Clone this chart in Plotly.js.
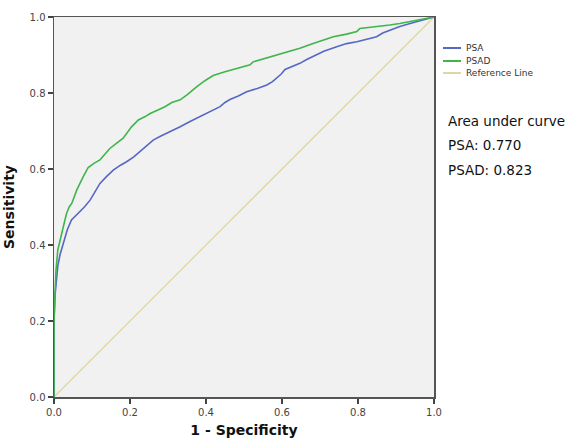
<!DOCTYPE html>
<html>
<head>
<meta charset="utf-8">
<script src="https://cdn.plot.ly/plotly-3.0.1.min.js"></script>
<style>html,body{margin:0;padding:0;background:#fff;}#chart{width:567px;height:438px;}</style>
</head>
<body>
<div id="chart"></div>
<script>
const psaFpr = [0, 0, 0.003, 0.006, 0.01, 0.016, 0.024, 0.035, 0.046, 0.055, 0.064, 0.08, 0.095, 0.108, 0.121, 0.138, 0.156, 0.175, 0.191, 0.21, 0.226, 0.245, 0.261, 0.28, 0.297, 0.315, 0.332, 0.358, 0.38, 0.402, 0.42, 0.437, 0.45, 0.463, 0.485, 0.507, 0.535, 0.56, 0.575, 0.586, 0.598, 0.608, 0.63, 0.647, 0.665, 0.682, 0.71, 0.744, 0.77, 0.797, 0.825, 0.849, 0.865, 0.884, 0.91, 0.937, 0.97, 1];
const psaTpr = [0, 0.2, 0.27, 0.31, 0.345, 0.375, 0.404, 0.44, 0.466, 0.475, 0.483, 0.5, 0.518, 0.54, 0.562, 0.58, 0.597, 0.61, 0.619, 0.632, 0.646, 0.662, 0.676, 0.686, 0.694, 0.703, 0.711, 0.725, 0.736, 0.746, 0.755, 0.764, 0.775, 0.783, 0.792, 0.803, 0.812, 0.821, 0.83, 0.839, 0.85, 0.862, 0.87, 0.878, 0.888, 0.896, 0.91, 0.922, 0.93, 0.935, 0.942, 0.948, 0.958, 0.966, 0.975, 0.983, 0.992, 1];
const psadFpr = [0, 0, 0.002, 0.005, 0.01, 0.019, 0.025, 0.033, 0.04, 0.047, 0.06, 0.077, 0.09, 0.105, 0.121, 0.135, 0.147, 0.165, 0.182, 0.204, 0.222, 0.24, 0.253, 0.275, 0.292, 0.31, 0.332, 0.35, 0.376, 0.398, 0.419, 0.45, 0.481, 0.5, 0.516, 0.524, 0.555, 0.586, 0.621, 0.647, 0.682, 0.71, 0.735, 0.77, 0.797, 0.805, 0.85, 0.884, 0.91, 0.937, 0.97, 1];
const psadTpr = [0, 0.2, 0.255, 0.33, 0.387, 0.43, 0.45, 0.483, 0.5, 0.51, 0.545, 0.58, 0.604, 0.615, 0.624, 0.64, 0.654, 0.668, 0.681, 0.711, 0.729, 0.738, 0.746, 0.756, 0.764, 0.775, 0.782, 0.795, 0.817, 0.833, 0.846, 0.856, 0.864, 0.869, 0.874, 0.882, 0.891, 0.9, 0.909, 0.918, 0.93, 0.94, 0.948, 0.955, 0.962, 0.97, 0.974, 0.979, 0.983, 0.988, 0.994, 1];
const refX = [0, 1];
const refY = [0, 1];
const tickVals = [0, 0.2, 0.4, 0.6, 0.8, 1.0];
const tickText = ["0.0", "0.2", "0.4", "0.6", "0.8", "1.0"];
const legendNames = ["PSA", "PSAD", "Reference Line"];
const aucTitle = "Area under curve";
const aucLines = ["PSA: 0.770", "PSAD: 0.823"];

const colors = ["#5468c4", "#3fb54a", "#e0d6a4"];

const traces = [
  {x: refX, y: refY, mode: "lines", line: {color: colors[2], width: 1.3}, hoverinfo: "skip"},
  {x: psaFpr, y: psaTpr, mode: "lines", line: {color: colors[0], width: 1.6}},
  {x: psadFpr, y: psadTpr, mode: "lines", line: {color: colors[1], width: 1.6}}
];

const shapes = [];
const annotations = [];
const legY = [48, 61, 73];
legendNames.forEach((n, i) => {
  shapes.push({type: "line", xref: "paper", yref: "paper",
    x0: (443 - 54) / 380, x1: (461 - 54) / 380,
    y0: (397 - legY[i]) / 380, y1: (397 - legY[i]) / 380,
    line: {color: colors[i], width: 2}});
  annotations.push({xref: "paper", yref: "paper", x: (464 - 54) / 380, y: (397 - legY[i]) / 380,
    xanchor: "left", yanchor: "middle", showarrow: false, text: n,
    font: {family: "DejaVu Sans", size: 9, color: "#333"}});
});
const aucY = [121, 145, 170];
[aucTitle].concat(aucLines).forEach((t, i) => {
  annotations.push({xref: "paper", yref: "paper", x: (446 - 54) / 380, y: (397 - aucY[i]) / 380,
    xanchor: "left", yanchor: "middle", showarrow: false, text: t,
    font: {family: "DejaVu Sans", size: 13.5, color: "#111"}});
});

const axisCommon = {
  range: [0, 1], tickvals: tickVals, ticktext: tickText,
  ticks: "outside", ticklen: 5, tickwidth: 1.5, tickcolor: "#444",
  showgrid: false, zeroline: false, showline: true, linecolor: "#555", linewidth: 1.5, mirror: true,
  tickfont: {family: "DejaVu Sans", size: 10, color: "#444"}, fixedrange: true
};

const layout = {
  width: 567, height: 438,
  margin: {l: 54, r: 133, t: 17, b: 41},
  paper_bgcolor: "#ffffff", plot_bgcolor: "#f1f1f1",
  showlegend: false,
  xaxis: Object.assign({}, axisCommon, {title: {text: "1 - Specificity", standoff: 9,
    font: {family: "DejaVu Sans", size: 14, color: "#111", weight: "bold"}}}),
  yaxis: Object.assign({}, axisCommon, {title: {text: "Sensitivity", standoff: 11,
    font: {family: "DejaVu Sans", size: 14, color: "#111", weight: "bold"}}}),
  shapes: shapes, annotations: annotations
};

Plotly.newPlot("chart", traces, layout, {displayModeBar: false, staticPlot: true});
</script>
</body>
</html>
